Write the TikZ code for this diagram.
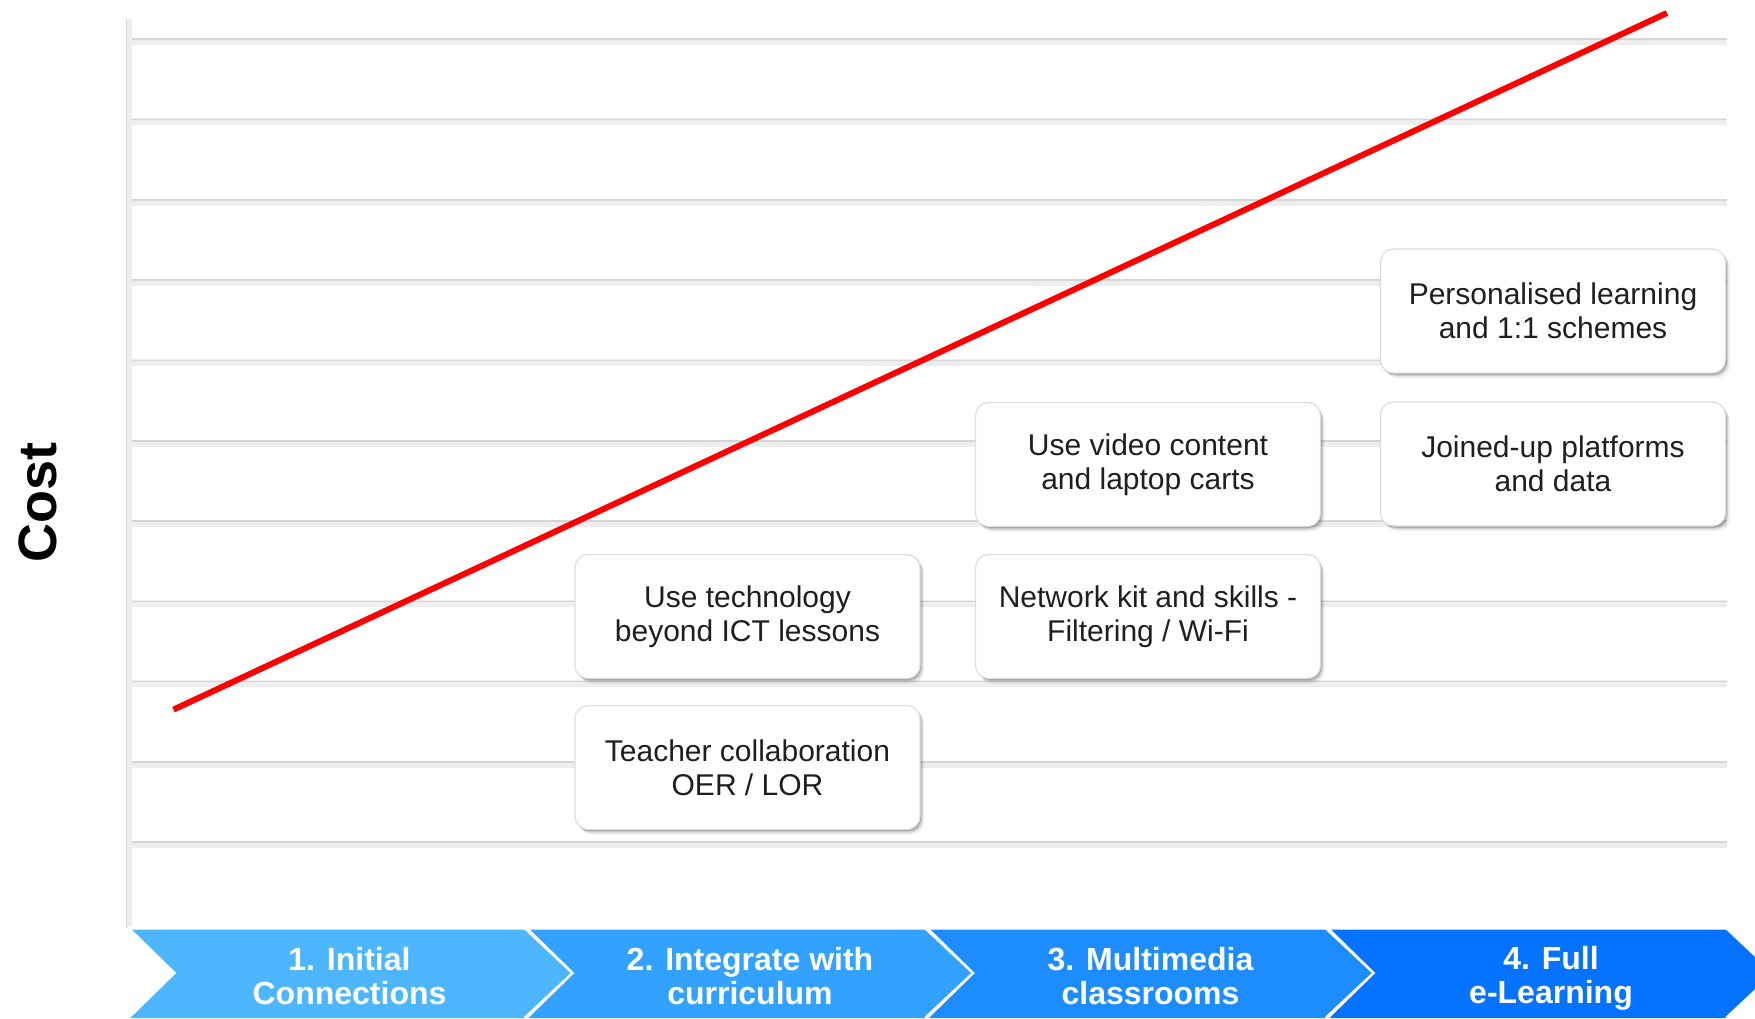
\documentclass[tikz,border=0pt]{standalone}
\usepackage{fontspec}
\setmainfont{Liberation Sans}
\usetikzlibrary{shadows}

\definecolor{stageA}{RGB}{78,182,255}
\definecolor{stageB}{RGB}{51,161,255}
\definecolor{stageC}{RGB}{28,140,255}
\definecolor{stageD}{RGB}{5,115,255}
\definecolor{gridband}{RGB}{238,238,238}
\definecolor{gridedge}{RGB}{214,214,214}
\definecolor{cardedge}{RGB}{222,222,222}

\tikzset{
  card/.style={rectangle, rounded corners=13pt, fill=white, draw=cardedge,
    line width=1.2pt, minimum width=345pt, minimum height=124pt,
    align=center, text=black!88, font=\fontsize{30}{34}\selectfont,
    drop shadow={shadow xshift=4pt, shadow yshift=-5pt, opacity=.07, fill=black},
    drop shadow={shadow xshift=2.5pt, shadow yshift=-3pt, opacity=.14, fill=black},
    drop shadow={shadow xshift=1pt, shadow yshift=-1.5pt, opacity=.22, fill=black}},
  stagelabel/.style={align=center, text=white, inner sep=0pt,
    font=\fontsize{32}{34}\selectfont\bfseries},
  chevron/.style={draw=white, line width=3pt, line join=miter},
}

\begin{document}
\begin{tikzpicture}[x=1pt, y=-1pt]
\useasboundingbox (0,0) rectangle (1755,1018);

% vertical axis
\fill[gridband] (126,19) rectangle (132,928);
\draw[gridedge, line width=1.2pt] (126.8,19) -- (126.8,928);

% horizontal grid lines
\foreach \k in {0,...,10}{
  \pgfmathsetmacro\yy{38+80.3*\k}
  \fill[gridband] (132,\yy) rectangle (1727,\yy+7);
  \draw[gridedge, line width=1.6pt] (132,\yy+1.2) -- (1727,\yy+1.2);
}

% axis title
\node[rotate=90, font=\fontsize{54}{60}\selectfont\bfseries] (costlabel) at (37.5,502) {Cost};

% rising cost trend
\coordinate (trendlow) at (173.5,709.6);
\coordinate (trendhigh) at (1667,13);
\draw[red, line width=6pt] (trendlow) -- (trendhigh);

% stage chevrons along the bottom
\foreach \i/\col in {0/stageA,1/stageB,2/stageC,3/stageD}{
  \pgfmathsetmacro\xa{128+400.5*\i}
  \fill[\col] (\xa,928) -- (\xa+397,928) -- (\xa+445,973) -- (\xa+397,1018)
      -- (\xa,1018) -- (\xa+46,973) -- cycle;
  \draw[chevron] (\xa,928) -- (\xa+397,928) -- (\xa+445,973) -- (\xa+397,1018);
}
\draw[white, line width=3pt] (128,928) -- (174,973) -- (128,1018);

\node[stagelabel] (stage1) at (349.5,976) {1. Initial\\Connections};
\node[stagelabel] (stage2) at (750,976) {2. Integrate with\\curriculum};
\node[stagelabel] (stage3) at (1150.5,976) {3. Multimedia\\classrooms};
\node[stagelabel] (stage4) at (1551,978) {4. Full\\e-Learning};

% activity cards
\node[card] (techbeyond) at (747.5,616.5) {Use technology\\beyond ICT lessons};
\node[card] (teachercollab) at (747.5,767.5) {Teacher collaboration\\OER / LOR};
\node[card] (networkkit) at (1148,616.5) {Network kit and skills -\\Filtering / Wi-Fi};
\node[card] (videocontent) at (1148,464.5) {Use video content\\and laptop carts};
\node[card] (personalised) at (1553,311) {Personalised learning\\and 1:1 schemes};
\node[card] (joinedup) at (1553,464) {Joined-up platforms\\and data};
\end{tikzpicture}
\end{document}
